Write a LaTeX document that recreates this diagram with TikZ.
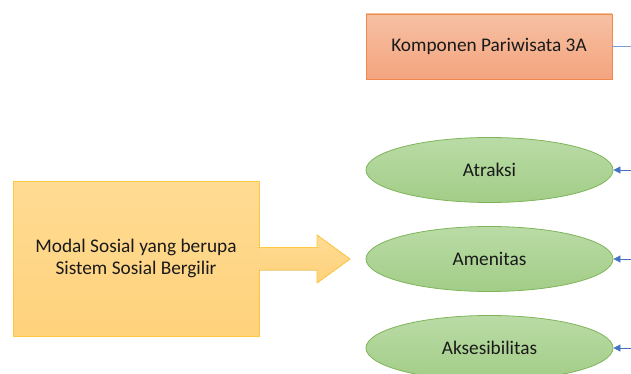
\documentclass[tikz,border=0pt]{standalone}
\usepackage{fontspec}
\setmainfont{Carlito}
\usetikzlibrary{shapes.geometric,shapes.arrows,arrows.meta}
\definecolor{orTop}{HTML}{F6C0A2}
\definecolor{orBot}{HTML}{F4A47F}
\definecolor{orLine}{HTML}{F08A4B}
\definecolor{grTop}{HTML}{BADBA6}
\definecolor{grBot}{HTML}{A2CD87}
\definecolor{grLine}{HTML}{7EB55A}
\definecolor{yeTop}{HTML}{FFDB93}
\definecolor{yeBot}{HTML}{FFD27C}
\definecolor{yeLine}{HTML}{FFC93F}
\definecolor{blueLine}{HTML}{4472C4}
\definecolor{txt}{HTML}{1A1A1A}
\tikzset{
  lbl/.style={font=\fontsize{19.3}{22.5}\selectfont, text=txt, inner sep=0pt},
  orbox/.style={lbl, draw=orLine, line width=0.8pt, top color=orTop, bottom color=orBot, minimum width=246pt, minimum height=65pt},
  grell/.style={lbl, ellipse, draw=grLine, line width=0.8pt, top color=grTop, bottom color=grBot, minimum width=247pt, minimum height=65pt},
  yebox/.style={lbl, draw=yeLine, line width=0.8pt, top color=yeTop, bottom color=yeBot, minimum width=246pt, minimum height=155pt, align=center},
  inarrow/.style={draw=blueLine, line width=0.8pt, -{Triangle[length=7pt,width=7pt]}},
}
\begin{document}
\begin{tikzpicture}[x=1pt,y=-1pt]
\useasboundingbox (0,0) rectangle (631,374);
\node[orbox] (komp) at (489,46.5) {Komponen Pariwisata 3A};
\coordinate (kompR) at (631,46.5);
\draw[blueLine!70, line width=0.8pt] (komp.east) -- (kompR);
\node[grell] (atr) at (489.5,170) {Atraksi};
\node[grell] (ame) at (489.5,259) {Amenitas};
\node[grell] (aks) at (489.5,348) {Aksesibilitas};
\coordinate (atrR) at (631,170);
\coordinate (ameR) at (631,259);
\coordinate (aksR) at (631,348);
\draw[inarrow] (atrR) -- (atr.east);
\draw[inarrow] (ameR) -- (ame.east);
\draw[inarrow] (aksR) -- (aks.east);
\node[yebox] (modal) at (136,258.5) {Modal Sosial yang berupa\\Sistem Sosial Bergilir};
\coordinate (tip) at (350,259);
\fill[draw=yeLine, line width=0.8pt, top color=yeTop, bottom color=yeBot]
  (modal.east |- 0,247.5) -- (317,247.5) -- (317,235) -- (tip) -- (317,283) -- (317,270) -- (modal.east |- 0,270);
\end{tikzpicture}
\end{document}
